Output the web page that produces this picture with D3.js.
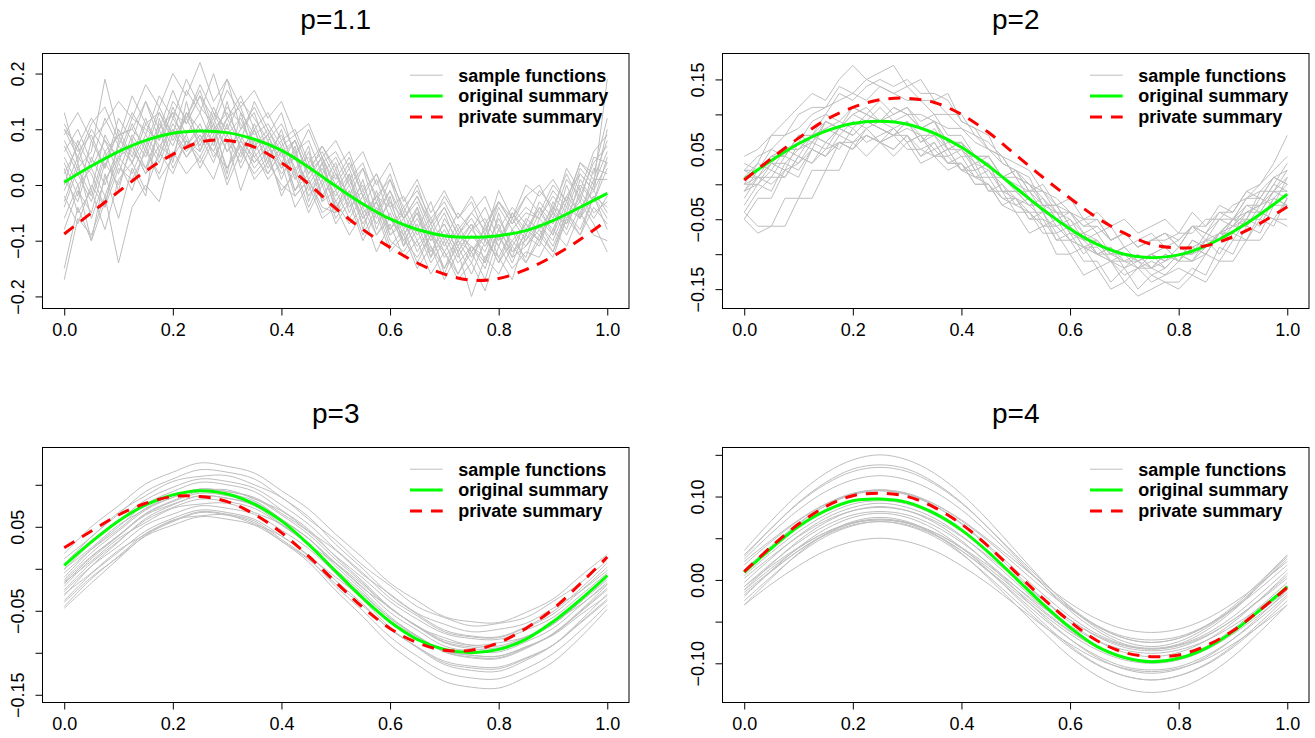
<!DOCTYPE html>
<html><head><meta charset="utf-8">
<script src="https://cdn.jsdelivr.net/npm/d3@7"></script>
<style>
body{margin:0;background:#fff}
svg{display:block}
text{font-family:"Liberation Sans",Arial,Helvetica,sans-serif;fill:#000}
</style>
</head><body>
<svg id="c" width="1315" height="738"></svg>
<script>
// ---------------- DATA ----------------
const panelTitles = ["p=1.1", "p=2", "p=3", "p=4"];
const legendLabels = ["sample functions", "original summary", "private summary"];
const xTickValues = [0, 0.2, 0.4, 0.6, 0.8, 1];
const xTickLabels = ["0.0", "0.2", "0.4", "0.6", "0.8", "1.0"];
const yLimits = [[-0.2217, 0.236], [-0.1777, 0.1871], [-0.1592, 0.1444], [-0.147, 0.1588]];
const yTickValues = [
  [-0.2, -0.1, 0, 0.1, 0.2],
  [-0.15, -0.1, -0.05, 0, 0.05, 0.1, 0.15],
  [-0.15, -0.1, -0.05, 0, 0.05, 0.1],
  [-0.1, -0.05, 0, 0.05, 0.1, 0.15]
];
const yTickLabels = [
  ["\u22120.2", "\u22120.1", "0.0", "0.1", "0.2"],
  ["\u22120.15", "", "\u22120.05", "", "0.05", "", "0.15"],
  ["\u22120.15", "", "\u22120.05", "", "0.05", ""],
  ["\u22120.10", "", "0.00", "", "0.10", ""]
];

const xGrid41 = [0,0.025,0.05,0.075,0.1,0.125,0.15,0.175,0.2,0.225,0.25,0.275,0.3,0.325,0.35,0.375,0.4,0.425,0.45,0.475,0.5,0.525,0.55,0.575,0.6,0.625,0.65,0.675,0.7,0.725,0.75,0.775,0.8,0.825,0.85,0.875,0.9,0.925,0.95,0.975,1];
const xGrid21 = [0,0.05,0.1,0.15,0.2,0.25,0.3,0.35,0.4,0.45,0.5,0.55,0.6,0.65,0.7,0.75,0.8,0.85,0.9,0.95,1];

// summary curves (on xGrid21)
const originalP1 = [.005,.034,.060,.080,.093,.097,.094,.082,.062,.032,-.002,-.034,-.061,-.080,-.091,-.094,-.091,-.082,-.064,-.040,-.015];
const privateP1  = [-.088,-.050,-.012,.025,.055,.077,.080,.068,.040,.002,-.042,-.080,-.112,-.140,-.160,-.171,-.168,-.152,-.128,-.098,-.063];
const originalP2 = [.007,.034,.058,.076,.087,.090,.086,.073,.053,.026,-.005,-.036,-.064,-.086,-.100,-.105,-.101,-.088,-.068,-.043,-.014];
const privateP2  = [.006,.037,.066,.092,.110,.121,.123,.117,.100,.074,.042,.010,-.020,-.048,-.070,-.086,-.091,-.088,-.075,-.056,-.032];
const originalP3 = [.004,.032,.057,.076,.088,.093,.089,.077,.057,.029,-.003,-.035,-.063,-.084,-.096,-.100,-.096,-.084,-.063,-.037,-.008];
const privateP3  = [.025,.045,.064,.078,.086,.086,.080,.065,.043,.015,-.016,-.046,-.071,-.088,-.097,-.097,-.088,-.071,-.048,-.018,.014];
const originalP4 = [.009,.038,.064,.083,.095,.097,.093,.080,.060,.033,.002,-.029,-.057,-.080,-.093,-.098,-.094,-.082,-.062,-.036,-.008];
const privateP4  = [.010,.040,.067,.088,.101,.104,.100,.087,.067,.040,.009,-.022,-.050,-.073,-.087,-.092,-.090,-.079,-.061,-.036,-.009];

// sample functions, p=1.1 (on xGrid41)
const samplesP1 = [
[.04,-.02,.08,.03,.10,.05,.12,.06,.14,.09,.13,.07,.15,.06,.10,.04,.10,.02,.07,-.03,.03,-.05,.01,-.08,-.02,-.11,-.04,-.13,-.06,-.10,-.07,-.14,-.05,-.12,-.09,-.04,-.09,0,-.06,.03,.02],
[-.08,-.01,-.05,.04,0,.07,.02,.10,.03,.08,.04,.09,.01,.08,.03,.06,-.02,.03,-.04,.01,-.06,-.02,-.09,-.04,-.11,-.08,-.14,-.09,-.15,-.11,-.16,-.10,-.13,-.08,-.14,-.09,-.12,-.05,-.09,-.02,-.06],
[.11,.06,.09,.03,.12,.08,.15,.10,.17,.11,.16,.12,.19,.10,.14,.09,.13,.05,.10,.04,.06,.01,.04,-.03,.02,-.05,0,-.07,-.02,-.06,-.03,-.09,-.01,-.06,-.02,0,-.05,.03,-.01,.06,.09],
[-.15,-.04,-.10,.02,-.06,.03,-.02,.12,.04,.15,.06,.11,.02,.13,.05,.08,.01,.07,-.03,.04,-.05,.02,-.08,-.01,-.09,-.06,-.12,-.08,-.16,-.10,-.14,-.07,-.13,-.17,-.09,-.11,-.04,-.08,-.01,-.05,-.03],
[.02,.07,-.01,.09,.04,.11,.06,.13,.08,.12,.07,.14,.09,.05,.11,.05,.08,.01,.06,-.02,.02,-.04,-.01,-.07,-.03,-.09,-.05,-.12,-.08,-.13,-.09,-.12,-.06,-.11,-.07,-.10,-.03,-.07,.01,-.03,.05],
[.06,.10,.04,.12,.07,.13,.09,.16,.12,.19,.14,.11,.17,.13,.09,.11,.07,.09,.03,.06,.01,.05,-.02,.02,-.04,-.02,-.08,-.03,-.10,-.05,-.08,-.04,-.10,-.05,-.09,-.03,-.06,.01,-.02,.04,.07],
[-.03,.04,-.06,.01,.05,.02,.08,.04,.10,.06,.09,.04,.11,.03,.08,.02,.06,-.01,.04,-.03,-.01,-.06,-.02,-.09,-.05,-.11,-.07,-.13,-.09,-.14,-.11,-.15,-.08,-.12,-.10,-.07,-.11,-.05,-.08,-.02,-.04],
[.08,.03,.06,.19,.09,.10,.07,.14,.09,.12,.17,.10,.13,.08,.15,.10,.05,.08,.02,.07,.02,-.02,.03,-.05,-.01,-.06,-.03,-.09,-.05,-.11,-.07,-.10,-.04,-.08,-.05,-.06,-.02,-.05,.02,-.01,.10],
[-.17,-.06,-.09,-.02,-.14,-.04,0,-.03,.06,.02,.05,.01,.08,-.01,.06,.01,.04,-.04,0,-.06,-.04,-.09,-.05,-.12,-.07,-.13,-.10,-.16,-.12,-.17,-.14,-.19,-.11,-.15,-.12,-.13,-.08,-.11,-.05,-.09,-.10],
[.09,.13,.08,.11,.15,.12,.18,.14,.20,.16,.22,.15,.19,.14,.17,.12,.15,.09,.11,.05,.08,.03,.06,0,.04,-.03,.01,-.05,-.01,-.06,-.02,-.07,-.03,-.06,0,-.02,.01,-.03,.04,.02,.12],
[.01,-.03,.05,0,.07,.04,.09,.05,.11,.07,.10,.06,.12,.07,.04,.07,.03,.05,0,.04,-.03,.01,-.05,-.02,-.08,-.05,-.10,-.07,-.12,-.08,-.13,-.09,-.14,-.10,-.07,-.09,-.05,-.07,-.02,-.06,-.02],
[.05,0,.03,.08,.02,.09,.05,.11,.07,.13,.08,.12,.06,.10,.13,.06,.09,.03,.05,0,.04,-.03,0,-.06,-.01,-.08,-.04,-.10,-.07,-.12,-.08,-.11,-.07,-.13,-.06,-.08,-.04,-.06,0,-.03,.03],
[-.06,0,-.10,-.03,.04,-.01,.07,.01,.05,.09,.03,.08,0,.06,.02,.05,-.01,.02,-.05,0,-.07,-.03,-.10,-.05,-.12,-.09,-.15,-.11,-.17,-.12,-.20,-.13,-.16,-.11,-.14,-.10,-.13,-.06,-.09,-.04,-.07],
[.13,.04,.10,.06,.09,.10,.15,.08,.13,.11,.16,.09,.14,.11,.07,.10,.06,.08,.01,.05,0,.04,-.02,-.05,.01,-.06,-.02,-.08,-.04,-.09,-.06,-.10,-.03,-.07,-.04,-.06,-.01,-.04,.03,0,.19],
[-.01,.05,.02,-.04,.08,.06,.03,.10,.13,.07,.11,.05,.09,.12,.06,.09,.03,.06,-.01,.03,-.02,.02,-.05,-.03,-.08,-.04,-.09,-.06,-.11,-.07,-.12,-.08,-.11,-.06,-.10,-.05,-.08,-.02,-.05,.01,.01],
[.03,-.05,-.01,-.08,.01,.04,-.01,.06,.02,.08,.05,.10,.03,.07,.01,.04,0,-.02,.01,-.04,-.05,-.01,-.07,-.03,-.10,-.12,-.08,-.14,-.10,-.16,-.12,-.17,-.09,-.13,-.11,-.08,-.12,-.06,-.03,-.07,-.12],
[.10,.07,.12,.08,.05,.12,.10,.08,.15,.12,.18,.13,.10,.15,.12,.08,.11,.06,.08,.02,.05,0,.03,-.02,.01,-.04,-.01,-.06,-.03,-.08,-.05,-.02,-.08,-.04,-.07,-.01,-.04,.02,-.03,.05,.04],
[0,.08,.03,-.02,.05,.07,.02,.05,.12,.08,.06,.13,.08,.04,.10,.03,.07,-.01,.02,.05,-.04,0,-.06,-.02,-.04,-.10,-.06,-.11,-.15,-.09,-.11,-.14,-.08,-.10,-.13,-.06,-.09,-.03,-.06,0,.06],
[.07,.02,-.03,.05,.09,.04,.11,.07,.05,.13,.10,.08,.12,.14,.07,.09,.04,.08,.02,.05,-.01,.03,-.04,.01,-.06,-.09,-.05,-.10,-.07,-.12,-.08,-.06,-.11,-.05,-.08,-.04,-.07,-.02,.02,-.01,.04],
[-.04,.03,-.02,.06,-.01,.08,.03,.07,.10,.05,.09,.06,.03,.08,.05,.02,.06,-.02,.01,-.05,-.03,-.07,-.04,-.09,-.06,-.10,-.13,-.09,-.12,-.16,-.11,-.13,-.09,-.14,-.08,-.10,-.05,-.09,-.04,-.01,-.05],
[.10,.05,.11,.14,.08,.16,.11,.13,.09,.17,.13,.20,.12,.16,.10,.13,.08,.10,.04,.07,.03,.06,-.01,.02,-.03,-.06,-.02,-.07,-.04,-.09,-.05,-.08,-.03,-.07,-.02,-.05,0,-.03,.04,.01,.08],
[-.02,-.07,0,-.04,.03,.01,.06,.02,.09,.05,.08,.11,.06,.09,.04,.07,.02,.05,-.02,.02,-.04,-.01,-.06,-.03,-.09,-.07,-.11,-.08,-.13,-.10,-.12,-.09,-.14,-.08,-.11,-.07,-.10,-.04,-.06,-.02,-.08]
];

// sample functions, p=2 (on xGrid41)
const samplesP2 = [
[.01,.03,.07,.09,.11,.13,.12,.15,.17,.15,.16,.17,.14,.15,.12,.13,.09,.08,.05,.04,.01,0,-.03,-.04,-.07,-.08,-.10,-.11,-.12,-.11,-.13,-.12,-.10,-.11,-.09,-.07,-.05,-.02,0,.03,.07],
[0,.01,.04,.05,.06,.09,.10,.13,.12,.14,.15,.14,.15,.13,.13,.12,.09,.08,.07,.03,.02,.01,-.03,-.03,-.06,-.09,-.09,-.11,-.13,-.12,-.12,-.13,-.11,-.11,-.10,-.07,-.06,-.05,-.01,-.01,.02],
[.04,.05,.07,.07,.10,.11,.11,.14,.13,.15,.14,.13,.14,.12,.12,.10,.10,.07,.06,.04,.03,.02,-.01,-.02,-.04,-.05,-.05,-.08,-.07,-.09,-.08,-.07,-.08,-.06,-.06,-.04,-.04,-.01,0,.02,.04],
[-.01,.02,.04,.04,.07,.06,.09,.08,.10,.11,.09,.10,.11,.08,.09,.06,.06,.04,.03,.01,0,-.01,-.04,-.05,-.06,-.08,-.08,-.10,-.09,-.11,-.10,-.09,-.11,-.08,-.09,-.07,-.05,-.05,-.02,-.03,.01],
[-.02,.01,.01,.04,.03,.06,.05,.08,.07,.09,.08,.07,.09,.06,.07,.04,.05,.02,.03,-.01,-.01,-.03,-.03,-.06,-.05,-.08,-.07,-.10,-.09,-.11,-.10,-.11,-.09,-.10,-.07,-.08,-.05,-.06,-.03,-.02,0],
[.01,.01,.03,.03,.05,.07,.06,.08,.07,.09,.08,.07,.08,.07,.05,.06,.04,.04,.01,.01,-.01,-.01,-.03,-.03,-.06,-.05,-.07,-.06,-.09,-.08,-.07,-.09,-.08,-.06,-.07,-.05,-.05,-.03,-.03,0,-.01],
[.02,.02,.05,.04,.07,.07,.09,.08,.11,.10,.09,.11,.10,.08,.09,.06,.06,.04,.04,.01,.02,-.01,-.01,-.04,-.04,-.06,-.05,-.08,-.07,-.09,-.08,-.07,-.09,-.06,-.07,-.04,-.05,-.02,-.02,.01,0],
[-.03,0,-.01,.03,.02,.05,.04,.06,.05,.07,.06,.05,.07,.04,.05,.03,.03,.01,.01,-.02,-.02,-.04,-.04,-.07,-.06,-.09,-.08,-.10,-.09,-.11,-.10,-.09,-.11,-.08,-.09,-.07,-.07,-.05,-.05,-.02,-.03],
[-.04,-.01,.01,.01,.04,.03,.06,.05,.08,.06,.07,.08,.06,.07,.04,.05,.02,.02,-.01,-.01,-.04,-.04,-.07,-.07,-.10,-.09,-.12,-.11,-.14,-.12,-.14,-.13,-.12,-.13,-.10,-.11,-.08,-.08,-.05,-.06,-.02],
[-.05,-.02,-.02,.02,.01,.05,.04,.07,.06,.08,.06,.07,.07,.05,.06,.03,.03,0,0,-.03,-.04,-.07,-.06,-.10,-.10,-.13,-.12,-.15,-.14,-.16,-.15,-.14,-.15,-.13,-.14,-.11,-.11,-.08,-.08,-.05,-.05],
[0,0,.02,.01,.04,.03,.05,.06,.05,.07,.06,.05,.07,.04,.06,.03,.04,.01,.02,-.01,-.01,-.03,-.02,-.05,-.04,-.07,-.06,-.08,-.07,-.09,-.08,-.07,-.09,-.06,-.08,-.05,-.06,-.03,-.04,-.01,-.02],
[-.05,-.07,-.06,-.06,-.02,-.02,.02,.02,.06,.04,.06,.04,.06,.03,.04,.02,.03,0,0,-.03,-.02,-.05,-.04,-.08,-.07,-.10,-.08,-.11,-.10,-.12,-.10,-.12,-.10,-.11,-.08,-.10,-.07,-.08,-.04,-.05,-.02],
[-.04,-.06,-.06,-.02,-.02,.02,.02,.06,.05,.08,.06,.08,.06,.07,.04,.05,.02,.03,-.01,0,-.03,-.02,-.06,-.05,-.08,-.07,-.10,-.09,-.12,-.10,-.12,-.10,-.11,-.09,-.10,-.07,-.08,-.05,-.06,-.02,-.03],
[-.01,0,.03,.02,.06,.05,.09,.08,.10,.09,.11,.09,.10,.08,.09,.05,.06,.02,.03,-.01,-.02,-.05,-.05,-.08,-.08,-.11,-.11,-.14,-.12,-.15,-.13,-.14,-.14,-.12,-.13,-.09,-.10,-.06,-.07,-.03,-.03],
[0,.03,.02,.05,.04,.07,.06,.08,.07,.09,.08,.07,.09,.06,.08,.05,.06,.03,.04,.01,.02,-.01,0,-.03,-.02,-.05,-.04,-.06,-.05,-.07,-.06,-.05,-.07,-.04,-.06,-.03,-.04,-.01,-.02,.01,0],
[.01,.02,.04,.04,.07,.07,.10,.09,.11,.10,.12,.10,.11,.09,.10,.07,.07,.04,.04,.01,.01,-.02,-.04,-.04,-.07,-.07,-.10,-.09,-.11,-.10,-.12,-.10,-.11,-.09,-.10,-.07,-.07,-.04,-.04,-.01,-.01],
[.03,.02,.04,.05,.05,.07,.08,.09,.08,.10,.09,.11,.10,.10,.09,.08,.08,.06,.05,.03,.02,0,-.01,-.03,-.04,-.06,-.06,-.08,-.07,-.09,-.08,-.08,-.07,-.07,-.05,-.05,-.03,-.02,-.01,.01,.02],
[.02,.01,.03,.05,.05,.06,.08,.07,.09,.08,.09,.08,.09,.07,.07,.05,.05,.03,.02,0,-.02,-.03,-.05,-.06,-.08,-.09,-.10,-.11,-.11,-.12,-.11,-.12,-.10,-.10,-.08,-.08,-.06,-.06,-.04,-.05,-.06],
[.02,.04,.05,.07,.08,.10,.11,.12,.13,.12,.14,.13,.12,.12,.10,.10,.08,.07,.05,.04,.01,0,-.02,-.04,-.05,-.07,-.08,-.10,-.10,-.11,-.12,-.11,-.10,-.10,-.09,-.07,-.06,-.04,-.03,-.01,.01],
[-.01,.01,0,.02,.03,.05,.04,.06,.06,.07,.06,.07,.05,.05,.04,.04,.02,.01,0,-.02,-.03,-.04,-.06,-.06,-.08,-.09,-.10,-.10,-.11,-.11,-.10,-.11,-.09,-.09,-.08,-.07,-.05,-.04,-.03,0,.03]
];

// sample functions, p=3 (on xGrid21)
const samplesP3 = [
[.018,.050,.075,.101,.115,.126,.122,.114,.093,.071,.041,.013,-.017,-.038,-.057,-.063,-.064,-.052,-.036,-.009,.017],
[.012,.038,.067,.087,.104,.110,.111,.100,.085,.059,.034,.004,-.020,-.045,-.058,-.068,-.065,-.058,-.039,-.017,.010],
[.005,.038,.065,.092,.107,.118,.115,.107,.085,.062,.029,0,-.031,-.054,-.073,-.080,-.081,-.069,-.051,-.024,.007],
[-.001,.031,.057,.082,.097,.107,.104,.096,.076,.053,.023,-.005,-.035,-.056,-.075,-.081,-.082,-.070,-.054,-.027,.002],
[0,.025,.052,.071,.088,.093,.094,.083,.069,.045,.022,-.007,-.030,-.053,-.066,-.075,-.072,-.065,-.047,-.027,-.002],
[-.005,.023,.047,.072,.085,.095,.092,.085,.066,.044,.015,-.011,-.039,-.060,-.077,-.083,-.084,-.073,-.058,-.032,-.005],
[-.010,.023,.050,.077,.092,.103,.100,.092,.070,.047,.014,-.015,-.046,-.069,-.088,-.095,-.096,-.084,-.066,-.039,-.008],
[-.013,.019,.045,.070,.085,.095,.092,.084,.064,.041,.011,-.017,-.047,-.068,-.087,-.093,-.094,-.082,-.066,-.039,-.011],
[-.015,.015,.039,.064,.077,.087,.084,.077,.058,.036,.007,-.019,-.047,-.068,-.085,-.091,-.092,-.081,-.066,-.040,-.013],
[-.016,.009,.036,.055,.072,.077,.078,.067,.053,.029,.006,-.023,-.046,-.069,-.082,-.091,-.088,-.081,-.063,-.043,-.018],
[-.021,.012,.039,.066,.081,.092,.089,.081,.059,.036,.003,-.026,-.057,-.080,-.099,-.106,-.107,-.095,-.077,-.050,-.019],
[-.025,.007,.033,.058,.073,.083,.080,.072,.052,.029,-.001,-.029,-.059,-.080,-.099,-.105,-.106,-.094,-.078,-.051,-.023],
[-.027,.003,.027,.052,.065,.075,.072,.065,.046,.024,-.005,-.031,-.059,-.080,-.097,-.103,-.104,-.093,-.078,-.052,-.025],
[-.032,.003,.032,.060,.076,.087,.084,.075,.053,.028,-.006,-.037,-.070,-.094,-.114,-.121,-.122,-.109,-.091,-.062,-.030],
[-.030,-.005,.022,.041,.058,.063,.064,.053,.039,.015,-.010,-.035,-.062,-.081,-.098,-.103,-.104,-.093,-.079,-.055,-.032],
[-.038,-.006,.020,.045,.060,.070,.067,.059,.039,.016,-.014,-.042,-.072,-.093,-.112,-.118,-.119,-.107,-.091,-.064,-.036],
[-.040,-.010,.014,.039,.052,.062,.059,.052,.033,.011,-.018,-.044,-.072,-.093,-.110,-.116,-.117,-.106,-.091,-.065,-.038],
[-.045,-.012,.015,.042,.057,.068,.065,.057,.035,.012,-.021,-.050,-.081,-.104,-.123,-.130,-.131,-.119,-.101,-.074,-.043],
[-.047,-.017,.012,.040,.056,.067,.064,.055,.033,.008,-.026,-.057,-.090,-.114,-.134,-.141,-.142,-.129,-.111,-.082,-.048],
[-.018,.014,.040,.065,.080,.090,.087,.079,.059,.036,.006,-.022,-.052,-.073,-.092,-.098,-.099,-.087,-.071,-.044,-.016]
];

// sample functions, p=4 (on xGrid21)
const samplesP4 = [
[.035,.071,.103,.128,.144,.150,.144,.128,.103,.071,.035,-.001,-.033,-.058,-.074,-.080,-.074,-.058,-.035,-.004,.030],
[.028,.062,.093,.117,.133,.138,.133,.117,.093,.062,.028,-.006,-.037,-.061,-.077,-.082,-.077,-.061,-.037,-.006,.028],
[.030,.062,.092,.115,.130,.135,.130,.115,.092,.062,.030,-.002,-.032,-.055,-.070,-.075,-.070,-.055,-.032,-.002,.030],
[.025,.056,.084,.106,.120,.125,.120,.106,.084,.056,.025,-.006,-.034,-.056,-.070,-.075,-.070,-.056,-.034,-.006,.025],
[.022,.048,.072,.091,.103,.107,.103,.091,.072,.048,.022,-.004,-.028,-.047,-.059,-.063,-.059,-.047,-.028,-.004,.022],
[.018,.046,.071,.091,.104,.108,.104,.091,.071,.046,.018,-.010,-.035,-.055,-.068,-.072,-.068,-.055,-.035,-.010,.018],
[.012,.041,.068,.089,.102,.107,.102,.089,.068,.041,.012,-.017,-.044,-.065,-.078,-.083,-.078,-.065,-.044,-.017,.012],
[.008,.039,.067,.089,.103,.108,.103,.089,.067,.039,.008,-.023,-.051,-.073,-.087,-.092,-.087,-.073,-.051,-.023,.008],
[.005,.033,.058,.078,.091,.095,.091,.078,.058,.033,.005,-.023,-.048,-.068,-.081,-.085,-.081,-.068,-.048,-.023,.005],
[.002,.028,.052,.071,.083,.087,.083,.071,.052,.028,.002,-.024,-.048,-.067,-.079,-.083,-.079,-.067,-.048,-.024,.002],
[-.003,.026,.053,.074,.087,.092,.087,.074,.053,.026,-.003,-.032,-.059,-.080,-.093,-.098,-.093,-.080,-.059,-.032,-.003],
[-.008,.020,.045,.065,.078,.082,.078,.065,.045,.020,-.008,-.036,-.061,-.081,-.094,-.098,-.094,-.081,-.061,-.036,-.008],
[-.012,.014,.038,.057,.069,.073,.069,.057,.038,.014,-.012,-.038,-.062,-.081,-.093,-.097,-.093,-.081,-.062,-.038,-.012],
[-.008,.017,.039,.057,.068,.072,.068,.057,.039,.017,-.008,-.033,-.055,-.073,-.084,-.088,-.084,-.073,-.055,-.033,-.008],
[-.020,.011,.039,.061,.075,.080,.075,.061,.039,.011,-.020,-.051,-.079,-.101,-.115,-.120,-.115,-.101,-.079,-.051,-.020],
[-.025,.004,.031,.052,.065,.070,.065,.052,.031,.004,-.025,-.054,-.081,-.102,-.115,-.120,-.115,-.102,-.081,-.054,-.025],
[-.030,.002,.032,.055,.070,.075,.070,.055,.032,.002,-.030,-.062,-.092,-.115,-.130,-.135,-.130,-.115,-.092,-.062,-.030],
[-.030,-.005,.017,.035,.046,.050,.046,.035,.017,-.005,-.030,-.055,-.077,-.095,-.106,-.110,-.106,-.095,-.077,-.055,-.030],
[-.018,.010,.035,.055,.068,.072,.068,.055,.035,.010,-.018,-.046,-.071,-.091,-.104,-.108,-.104,-.091,-.071,-.046,-.018],
[-.015,.011,.035,.054,.066,.070,.066,.054,.035,.011,-.015,-.041,-.065,-.084,-.096,-.100,-.096,-.084,-.065,-.041,-.015],
[-.012,.019,.047,.069,.083,.088,.083,.069,.047,.019,-.012,-.043,-.071,-.093,-.107,-.112,-.107,-.093,-.071,-.043,-.012]
];

// ---------------- DRAWING ----------------
const panels = [
  {samples: samplesP1, sx: xGrid41, smooth: false, orig: originalP1, priv: privateP1},
  {samples: samplesP2, sx: xGrid41, smooth: false, orig: originalP2, priv: privateP2},
  {samples: samplesP3, sx: xGrid21, smooth: true,  orig: originalP3, priv: privateP3},
  {samples: samplesP4, sx: xGrid21, smooth: true,  orig: originalP4, priv: privateP4}
];
const origins = [[42.5, 53.5], [722.5, 53.5], [42.5, 447.5], [722.5, 447.5]];
const W = 586.5, H = 255;
const GRAY = "#BEBEBE", GREEN = "#00FF00", RED = "#FF0000";

const svg = d3.select("#c");
const defs = svg.append("defs");

panels.forEach((p, k) => {
  const [L, T] = origins[k];
  const x = d3.scaleLinear().domain([-0.04, 1.04]).range([L, L + W]);
  const y = d3.scaleLinear().domain(yLimits[k]).range([T + H, T]);

  defs.append("clipPath").attr("id", "clip" + k)
    .append("rect").attr("x", L).attr("y", T).attr("width", W).attr("height", H);

  const g = svg.append("g");
  const plot = g.append("g").attr("clip-path", `url(#clip${k})`);

  const sampleLine = d3.line()
    .x(d => x(d[0])).y(d => y(d[1]))
    .curve(p.smooth ? d3.curveCatmullRom : d3.curveLinear);
  const smoothLine = d3.line()
    .x(d => x(d[0])).y(d => y(d[1]))
    .curve(d3.curveCatmullRom);

  plot.selectAll("path.sample").data(p.samples).join("path")
    .attr("class", "sample")
    .attr("d", d => sampleLine(d.map((v, i) => [p.sx[i], v])))
    .attr("fill", "none").attr("stroke", GRAY).attr("stroke-width", 1);

  plot.append("path")
    .attr("d", smoothLine(p.orig.map((v, i) => [xGrid21[i], v])))
    .attr("fill", "none").attr("stroke", GREEN).attr("stroke-width", 3);

  plot.append("path")
    .attr("d", smoothLine(p.priv.map((v, i) => [xGrid21[i], v])))
    .attr("fill", "none").attr("stroke", RED).attr("stroke-width", 3)
    .attr("stroke-dasharray", "12,9");

  // box
  g.append("rect").attr("x", L).attr("y", T).attr("width", W).attr("height", H)
    .attr("fill", "none").attr("stroke", "#000").attr("stroke-width", 1);

  // x axis
  const xa = g.append("g").attr("transform", `translate(0,${T + H})`)
    .call(d3.axisBottom(x).tickValues(xTickValues)
      .tickFormat((d, i) => xTickLabels[i]).tickSize(7).tickPadding(8));
  xa.select(".domain").remove();
  xa.attr("font-family", null).attr("font-size", null);
  xa.selectAll("text").style("font-size", "18px");
  xa.selectAll("line").attr("stroke", "#000");

  // y axis
  const ya = g.append("g").attr("transform", `translate(${L},0)`)
    .call(d3.axisLeft(y).tickValues(yTickValues[k])
      .tickFormat((d, i) => yTickLabels[k][i]).tickSize(7));
  ya.select(".domain").remove();
  ya.attr("font-family", null).attr("font-size", null);
  ya.selectAll("line").attr("stroke", "#000");
  ya.selectAll("text")
    .attr("transform", "rotate(-90)")
    .attr("x", 0).attr("y", -19).attr("dy", 0)
    .attr("text-anchor", "middle")
    .style("font-size", "18px");

  // title
  g.append("text").attr("x", L + W / 2).attr("y", T - 24.5)
    .attr("text-anchor", "middle").style("font-size", "28px")
    .text(panelTitles[k]);

  // legend
  const R = L + W;
  const styles = [
    {c: GRAY, w: 1, dash: null},
    {c: GREEN, w: 3, dash: null},
    {c: RED, w: 3, dash: "12,9"}
  ];
  legendLabels.forEach((lab, j) => {
    const yy = T + 21.7 + 20.85 * j;
    g.append("line").attr("x1", R - 219).attr("x2", R - 186.3)
      .attr("y1", yy).attr("y2", yy)
      .attr("stroke", styles[j].c).attr("stroke-width", styles[j].w)
      .attr("stroke-dasharray", styles[j].dash);
    g.append("text").attr("x", R - 170.7).attr("y", yy).attr("dy", "0.35em")
      .style("font-size", "18px").style("font-weight", "bold")
      .text(lab);
  });
});
</script>
</body></html>
